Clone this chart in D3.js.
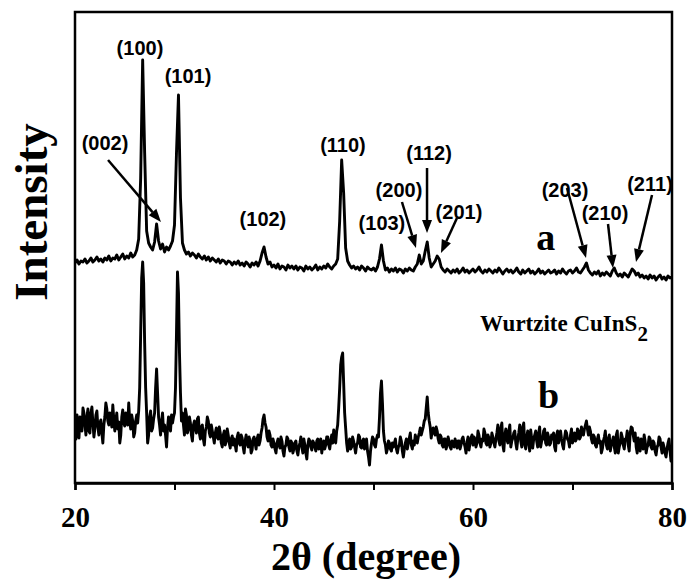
<!DOCTYPE html>
<html>
<head>
<meta charset="utf-8">
<script src="https://cdn.jsdelivr.net/npm/d3@7"></script>
<style>
  html, body { margin: 0; padding: 0; background: #fff; }
  svg { display: block; }
</style>
</head>
<body>
<div id="chart"></div>
<script>
// ---------------- DATA ----------------
// Pattern a: 2θ from 20° to 80° every 0.2° (301 points)
const thetaStartA = 20, thetaStepA = 0.2, nPointsA = 301;
const intensityA = [
  220,223,219,222,221,224,220,222,225,221,
  223,226,222,224,221,225,223,227,222,225,
  224,228,223,226,229,224,227,225,230,226,
  228,233,244,305,423,330,252,240,236,233,
  241,259,242,234,239,231,236,233,237,242,
  258,330,388,285,240,233,229,231,227,230,
  228,225,229,226,224,227,223,226,222,225,
  223,221,224,220,223,222,219,222,221,218,
  221,219,222,218,220,217,221,219,216,220,
  218,221,217,222,230,236,226,219,221,216,
  218,215,219,214,217,216,213,218,215,217,
  214,217,213,216,215,212,217,214,216,213,
  215,218,213,216,214,217,215,219,216,214,
  217,219,224,262,323,290,235,222,218,215,
  217,214,216,213,217,215,212,216,214,213,
  215,212,216,224,238,222,213,215,211,214,
  212,215,211,214,213,210,214,212,215,213,
  212,216,219,228,219,222,232,241,225,216,
  219,222,227,224,216,213,211,214,212,210,
  213,211,214,210,212,215,211,213,210,212,
  214,211,213,216,212,210,213,211,214,212,
  210,213,211,215,212,209,212,214,211,213,
  210,212,215,211,209,213,210,212,214,210,
  212,209,211,214,210,212,209,211,213,210,
  211,213,209,212,210,214,211,209,212,213,
  210,212,215,211,210,213,216,220,213,210,
  208,211,209,212,207,210,208,211,209,207,
  212,215,210,207,209,206,210,208,206,210,
  214,212,208,210,206,208,205,207,204,208,
  205,207,203,206,208,204,206,203,207,205,206
];

// Pattern b: 2θ from 20° to 80° every 0.1° (601 points)
const thetaStartB = 20, thetaStepB = 0.1, nPointsB = 601;
const intensityB = [
  50,44,68,58,45,66,62,52,75,70,58,48,66,74,52,50,70,76,60,46,
  55,68,72,56,48,60,63,50,40,58,66,80,74,62,58,70,64,56,78,64,
  52,62,70,54,61,40,48,66,73,60,57,70,66,58,80,62,54,68,62,46,
  50,62,68,60,72,95,150,205,221,200,140,95,70,40,48,66,72,52,55,64,
  70,95,114,90,66,58,48,62,70,52,58,48,36,55,66,60,52,68,60,66,
  70,95,150,211,190,130,90,62,70,58,48,74,68,50,54,66,60,48,42,58,
  62,55,50,64,66,50,44,56,58,44,38,52,56,66,62,50,46,58,52,46,
  40,50,55,46,44,56,50,40,36,48,52,38,42,54,48,40,35,44,47,38,
  44,38,32,46,50,40,38,48,45,36,30,42,48,40,36,46,42,30,33,44,
  46,40,34,44,48,38,42,50,55,64,68,60,56,46,42,52,48,38,36,44,
  40,34,30,40,44,38,35,46,42,32,27,36,38,46,44,36,32,42,40,30,
  34,40,42,32,28,36,40,46,36,30,44,38,30,24,38,44,42,36,33,42,
  40,36,32,42,44,34,36,44,30,38,42,34,38,46,46,38,34,42,48,40,
  53,44,40,52,58,75,95,118,126,130,100,70,55,40,32,40,44,34,36,46,
  42,36,30,38,40,48,46,36,35,42,44,34,38,44,32,26,18,32,40,46,
  44,38,36,44,48,46,65,90,102,80,52,42,38,30,34,42,40,34,32,40,
  36,40,44,34,30,36,38,46,42,32,26,34,40,44,34,40,45,50,38,34,
  42,38,48,44,40,46,50,55,48,52,56,62,64,75,86,70,62,56,45,52,
  55,50,48,56,52,44,40,48,46,38,36,44,44,34,38,46,42,36,34,42,
  40,36,44,40,35,42,42,34,38,44,46,40,36,30,41,46,33,40,45,48,
  38,46,44,36,40,52,48,40,36,44,42,54,50,40,38,48,45,36,40,50,
  46,40,36,44,50,58,42,38,55,60,38,32,48,54,44,40,52,58,36,42,
  45,50,52,40,34,44,50,58,42,36,56,60,38,34,46,52,40,32,53,44,
  35,44,48,52,42,36,50,56,36,42,44,52,54,40,38,50,46,38,40,48,
  44,50,36,32,48,52,40,46,52,44,38,34,45,52,50,44,42,36,48,54,
  40,46,50,42,44,54,52,44,46,56,50,48,54,58,62,54,48,56,52,44,
  40,48,46,38,36,44,48,40,42,30,34,42,46,52,38,34,44,48,32,38,
  42,46,36,30,48,52,30,36,40,50,46,38,34,44,44,52,38,32,50,56,
  55,48,42,50,36,30,45,40,32,44,40,34,48,42,30,36,38,46,44,36,
  34,42,40,32,28,36,38,46,44,36,30,40,36,30,26,34,40,44,32,22,35
];

// x-axis ticks and labels
const xTicks = [20, 30, 40, 50, 60, 70, 80];
const xTickLabels = {20: "20", 40: "40", 60: "60", 80: "80"};

// Miller index labels: [text, 2θ, intensity] (label anchor)
const peakLabels = [
  ["(100)", 26.53, 428],
  ["(101)", 31.36, 400],
  ["(002)", 23.02, 333],
  ["(102)", 38.89, 257],
  ["(110)", 46.93, 331],
  ["(103)", 50.85, 253],
  ["(200)", 52.56, 286],
  ["(112)", 55.58, 323],
  ["(201)", 58.59, 264],
  ["(203)", 69.25, 286],
  ["(210)", 73.27, 263],
  ["(211)", 77.79, 292]
];

// Arrows: [2θ start, I start, 2θ end, I end]
const arrows = [
  [23.32, 323, 28.64, 261],
  [52.86, 281, 54.27, 235],
  [55.38, 315, 55.38, 250],
  [58.39, 265, 56.78, 230],
  [69.45, 295, 71.36, 225],
  [73.57, 259, 74.07, 215],
  [77.99, 288, 76.38, 221]
];

// Series tags: [text, 2θ, intensity]
const seriesTags = [["a", 67.3, 233], ["b", 67.6, 75]];

// ---------------- CHART ----------------
const W = 691, H = 581;
const margin = {left: 75, right: 19, top: 12, bottom: 98};
const plotW = W - margin.left - margin.right;
const plotH = H - margin.top - margin.bottom;

const svg = d3.select("#chart").append("svg")
  .attr("width", W).attr("height", H);

const x = d3.scaleLinear().domain([20, 80]).range([margin.left, margin.left + plotW]);
const y = d3.scaleLinear().domain([0, 471]).range([margin.top + plotH, margin.top]);

const line = d3.line()
  .x(d => x(d[0]))
  .y(d => y(d[1]));

svg.append("clipPath").attr("id", "clip")
  .append("rect")
  .attr("x", margin.left).attr("y", margin.top)
  .attr("width", plotW).attr("height", plotH);

const series = [
  {start: thetaStartA, step: thetaStepA, n: nPointsA, vals: intensityA},
  {start: thetaStartB, step: thetaStepB, n: nPointsB, vals: intensityB}
];
series.forEach(s => {
  const pts = d3.range(s.n).map(i => [s.start + i * s.step, s.vals[i]]);
  svg.append("path")
    .datum(pts)
    .attr("d", line)
    .attr("fill", "none")
    .attr("stroke", "#000")
    .attr("stroke-width", 2.9)
    .attr("stroke-linejoin", "round")
    .attr("clip-path", "url(#clip)");
});

// Frame
svg.append("rect")
  .attr("x", margin.left).attr("y", margin.top)
  .attr("width", plotW).attr("height", plotH)
  .attr("fill", "none").attr("stroke", "#000").attr("stroke-width", 2.5);

// X axis
const xAxis = d3.axisBottom(x)
  .tickValues(xTicks)
  .tickSize(7)
  .tickFormat(d => xTickLabels[d] || "");
const gx = svg.append("g")
  .attr("transform", `translate(0,${margin.top + plotH})`)
  .call(xAxis);
gx.select(".domain").attr("stroke-width", 2.5);
gx.selectAll(".tick line").attr("stroke-width", 2);
gx.selectAll(".tick text")
  .attr("y", 44).attr("dy", 0)
  .attr("font-family", "'Liberation Serif', 'Times New Roman', serif")
  .attr("font-weight", "bold")
  .attr("font-size", 29)
  .attr("fill", "#000");

// Axis titles
svg.append("text")
  .attr("x", 366).attr("y", 570)
  .attr("text-anchor", "middle")
  .attr("font-family", "'Liberation Serif', 'Times New Roman', serif")
  .attr("font-weight", "bold")
  .attr("font-size", 40)
  .text("2θ (degree)");

svg.append("text")
  .attr("transform", "translate(47,212) rotate(-90)")
  .attr("text-anchor", "middle")
  .attr("font-family", "'Liberation Serif', 'Times New Roman', serif")
  .attr("font-weight", "bold")
  .attr("font-size", 47)
  .text("Intensity");

// Peak labels
svg.selectAll("text.peak")
  .data(peakLabels)
  .enter().append("text")
  .attr("class", "peak")
  .attr("x", d => x(d[1]))
  .attr("y", d => y(d[2]))
  .attr("text-anchor", "middle")
  .attr("font-family", "'Liberation Sans', Arial, sans-serif")
  .attr("font-weight", "bold")
  .attr("font-size", 20)
  .text(d => d[0]);

// Arrows
const headLen = 13, headHalf = 5;
arrows.forEach(a => {
  const x1 = x(a[0]), y1 = y(a[1]), x2 = x(a[2]), y2 = y(a[3]);
  const ang = Math.atan2(y2 - y1, x2 - x1);
  const bx = x2 - headLen * Math.cos(ang), by = y2 - headLen * Math.sin(ang);
  svg.append("line")
    .attr("x1", x1).attr("y1", y1).attr("x2", bx).attr("y2", by)
    .attr("stroke", "#000").attr("stroke-width", 2.5);
  const px = -Math.sin(ang) * headHalf, py = Math.cos(ang) * headHalf;
  svg.append("polygon")
    .attr("points", `${x2},${y2} ${bx + px},${by + py} ${bx - px},${by - py}`)
    .attr("fill", "#000");
});

// Series tags a / b
svg.selectAll("text.tag")
  .data(seriesTags)
  .enter().append("text")
  .attr("class", "tag")
  .attr("x", d => x(d[1]))
  .attr("y", d => y(d[2]))
  .attr("text-anchor", "middle")
  .attr("font-family", "'Liberation Serif', 'Times New Roman', serif")
  .attr("font-weight", "bold")
  .attr("font-size", 38)
  .text(d => d[0]);

// Compound label
const comp = svg.append("text")
  .attr("x", 480).attr("y", 331)
  .attr("font-family", "'Liberation Serif', 'Times New Roman', serif")
  .attr("font-weight", "bold")
  .attr("font-size", 23);
comp.append("tspan").text("Wurtzite CuInS");
comp.append("tspan").attr("dy", 10).attr("font-size", 21).text("2");
</script>
</body>
</html>
